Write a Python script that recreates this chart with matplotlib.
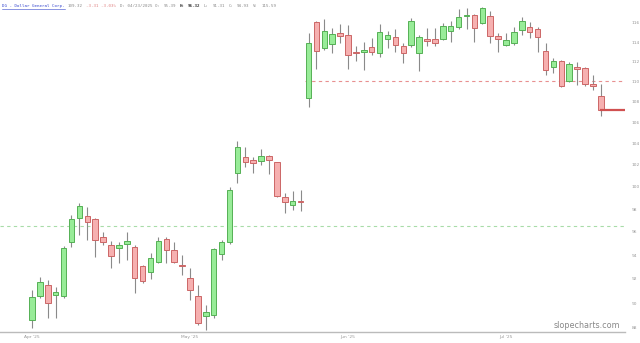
import matplotlib
matplotlib.use("Agg")
import matplotlib.pyplot as plt
from matplotlib.ticker import FixedLocator, NullLocator, FixedFormatter
import numpy as np

# ---- data ----
opens = [88.6, 90.58, 91.49, 90.66, 90.58, 95.12, 97.21, 97.39, 97.12, 95.55,
         94.86, 94.61, 94.95, 94.69, 93.07, 92.57, 93.41, 95.38, 94.43, 93.2,
         92.07, 90.58, 88.95, 89.03, 94.09, 95.12, 101.26, 102.74, 102.46, 102.37,
         102.83, 102.27, 99.08, 98.36, 98.75, 108.38, 116.10, 113.40, 113.81, 114.95,
         114.74, 112.95, 112.99, 113.5, 112.89, 114.32, 114.53, 113.61, 113.71, 112.89,
         114.32, 114.32, 114.32, 115.16, 115.58, 116.73, 116.84, 115.99, 116.73, 114.63,
         113.71, 113.91, 115.26, 115.58, 115.37, 113.09, 111.47, 112.08, 110.06, 111.47,
         111.37, 109.77, 108.58]
highs = [91.07, 92.15, 91.90, 91.3, 94.78, 97.47, 98.54, 98.19, 97.21, 95.99,
         95.21, 95.12, 95.99, 94.9, 93.16, 94.17, 95.55, 95.55, 95.12, 94.01,
         92.91, 91.49, 89.84, 94.61, 95.29, 99.98, 104.24, 103.67, 102.74, 103.48,
         102.92, 102.3, 99.44, 99.62, 99.71, 114.95, 116.2, 116.42, 115.47, 115.90,
         115.79, 113.61, 114.02, 114.43, 115.90, 115.16, 115.37, 113.91, 116.52, 114.74,
         115.47, 115.47, 116.0, 116.21, 117.48, 117.59, 116.95, 117.70, 117.26, 114.95,
         114.95, 115.58, 116.63, 116.10, 115.58, 113.91, 112.38, 112.18, 111.98, 111.98,
         111.47, 110.66, 109.77]
lows = [87.99, 90.4, 88.79, 88.8, 90.4, 94.69, 95.73, 95.29, 93.84, 94.86,
        92.91, 93.33, 93.58, 90.83, 91.66, 91.99, 93.3, 93.33, 93.33, 92.32,
        90.25, 88.23, 87.83, 88.79, 93.58, 94.95, 100.35, 101.81, 101.26, 102.0,
        101.17, 99.08, 97.65, 97.92, 97.83, 107.50, 111.27, 113.2, 112.89, 113.91,
        111.27, 112.08, 111.17, 112.69, 112.48, 113.40, 112.99, 111.88, 113.5, 111.07,
        113.61, 113.61, 114.22, 114.02, 115.37, 115.37, 114.02, 115.9, 113.91, 112.99,
        113.61, 113.71, 114.74, 114.43, 112.99, 110.66, 110.86, 109.47, 109.96, 109.67,
        109.57, 109.17, 106.63]
closes = [90.5, 91.74, 90.01, 90.95, 94.61, 97.12, 98.27, 96.87, 95.29, 95.12,
          93.92, 94.86, 95.21, 92.07, 91.82, 93.75, 95.21, 94.43, 93.41, 93.12,
          91.07, 88.39, 89.28, 94.52, 95.12, 99.71, 103.67, 102.27, 102.18, 102.83,
          102.46, 99.17, 98.63, 98.72, 98.68, 113.91, 113.09, 115.16, 114.84, 114.63,
          112.69, 112.89, 113.20, 112.99, 115.05, 114.74, 113.71, 112.89, 116.21, 114.53,
          114.12, 113.91, 115.68, 115.68, 116.63, 116.84, 115.47, 117.59, 114.63, 114.32,
          114.22, 115.05, 116.21, 115.05, 114.53, 111.17, 112.08, 109.57, 111.77, 111.27,
          109.77, 109.57, 107.21]

y_ticks = [88, 90, 92, 94, 96, 98, 100, 102, 104, 106, 108, 110, 112, 114, 116]
x_tick_idx = [0, 20, 40, 60]
x_tick_labels = ["Apr '25", "May '25", "Jun '25", "Jul '25"]
red_level = 110.06
red_level_start = 34.5
green_level = 96.5

title_name = "DG - Dollar General Corp."
header_parts = [
    ("109.32", "#888888", "normal"),
    ("-3.31 -3.03%", "#e08080", "normal"),
    ("D: 04/23/2025 O:", "#888888", "normal"),
    ("95.39", "#888888", "normal"),
    ("H:", "#333333", "bold"),
    ("96.32", "#333333", "bold"),
    ("L:", "#888888", "normal"),
    ("91.31", "#888888", "normal"),
    ("C:", "#888888", "normal"),
    ("94.93", "#888888", "normal"),
    ("V:", "#888888", "normal"),
    ("115.59", "#888888", "normal"),
]

# ---- figure ----
W, H = 640, 343
fig = plt.figure(figsize=(W / 100, H / 100), dpi=100)
ax = fig.add_axes([0, 1 - 332 / H, 625 / W, 332 / H])
ax.set_facecolor("white")

n = len(opens)
x = np.arange(n)
o = np.array(opens); c = np.array(closes); hi = np.array(highs); lo = np.array(lows)
up = c >= o

green_fill, green_edge = "#98ec98", "#55b055"
red_fill, red_edge = "#f6b0b0", "#cc6666"
wick_col = "#8a8a8a"

ax.vlines(x, lo, hi, color=wick_col, linewidth=0.8, zorder=2)
bottoms = np.minimum(o, c)
heights = np.maximum(np.abs(c - o), 0.06)
ax.bar(x[up], heights[up], bottom=bottoms[up], width=0.7,
       color=green_fill, edgecolor=green_edge, linewidth=0.7, zorder=3)
ax.bar(x[~up], heights[~up], bottom=bottoms[~up], width=0.7,
       color=red_fill, edgecolor=red_edge, linewidth=0.7, zorder=3)

xmin, xmax = -4.05, 75.06
ax.set_yscale("log")
ax.set_ylim(87.68, 118.44)
ax.set_xlim(xmin, xmax)

# level lines
ax.plot([red_level_start, xmax], [red_level, red_level], color="#e89090",
        linestyle=(0, (3, 3)), linewidth=0.8, zorder=1)
ax.plot([xmin, xmax], [green_level, green_level], color="#a8dca8",
        linestyle=(0, (3, 3)), linewidth=0.8, zorder=1)
# last price line
ax.plot([x[-1], xmax], [closes[-1], closes[-1]], color="#d05050",
        linewidth=1.6, zorder=4)

# axes styling
for s in ["top", "left", "right"]:
    ax.spines[s].set_visible(False)
ax.spines["bottom"].set_color("#bbbbbb")
ax.spines["bottom"].set_linewidth(1.0)

ax.yaxis.tick_right()
ax.yaxis.set_major_locator(FixedLocator(y_ticks))
ax.yaxis.set_major_formatter(FixedFormatter([str(v) for v in y_ticks]))
ax.yaxis.set_minor_locator(NullLocator())
ax.tick_params(axis="y", which="both", length=0, pad=5, labelsize=3.2,
               labelcolor="#999999")
ax.set_xticks(x_tick_idx)
ax.set_xticklabels(x_tick_labels)
ax.tick_params(axis="x", length=0, pad=2.5, labelsize=3.2, labelcolor="#999999")

# header
fx = 2 / W
fy = 1 - 7 / H
fs = 2.95
t = fig.text(fx, fy, title_name, color="#3344cc", fontsize=fs,
             family="DejaVu Sans Mono", va="baseline")
fig.canvas.draw()
r = fig.canvas.get_renderer()
bb = t.get_window_extent(r)
fig.add_artist(plt.Line2D([bb.x0 / W, bb.x1 / W], [(bb.y0 - 1) / H] * 2,
                          color="#3344cc", linewidth=0.4))
cur = bb.x1 + 3.5
for txt, col, wt in header_parts:
    tt = fig.text(cur / W, fy, txt, color=col, fontsize=fs, weight=wt,
                  family="DejaVu Sans Mono", va="baseline")
    b2 = tt.get_window_extent(r)
    cur = b2.x1 + 3.5

# watermark
fig.text(620 / W, 1 - 326 / H, "slopecharts.com", color="#888888",
         fontsize=5.8, ha="right", va="center", family="DejaVu Sans")

fig.savefig("out.png", dpi=100, facecolor="white")
